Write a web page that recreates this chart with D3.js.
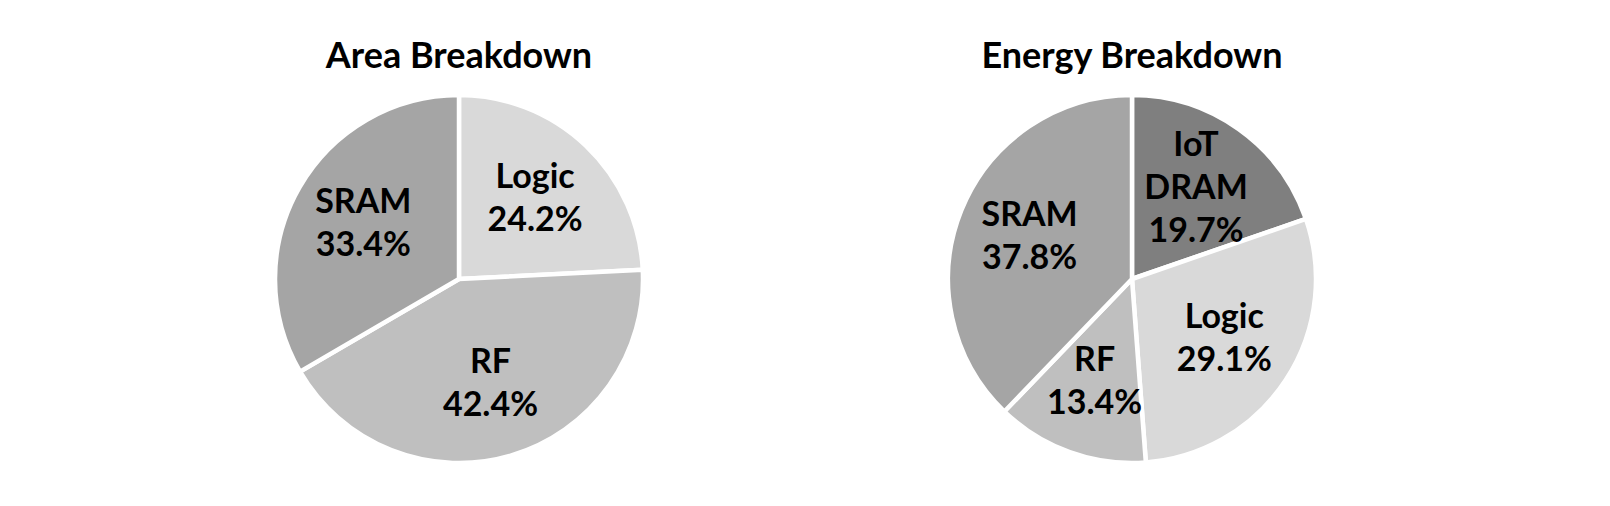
<!DOCTYPE html>
<html>
<head>
<meta charset="utf-8">
<script src="https://cdn.jsdelivr.net/npm/d3@7"></script>
<style>
  html, body { margin: 0; padding: 0; background: #ffffff; }
  svg { display: block; }
  text { font-family: Lato, "Open Sans", sans-serif; font-weight: bold; fill: #000; }
</style>
</head>
<body>
<svg id="chart" width="1610" height="506"></svg>
<script>
// ---- data ----
const areaTitle = "Area Breakdown";
const areaCategories = ["Logic", "RF", "SRAM"];
const areaValues = [24.2, 42.4, 33.4];

const energyTitle = "Energy Breakdown";
const energyCategories = ["IoT DRAM", "Logic", "RF", "SRAM"];
const energyValues = [19.7, 29.1, 13.4, 37.8];

const colorMap = {
  "Logic": "#d9d9d9",
  "RF": "#bfbfbf",
  "SRAM": "#a5a5a5",
  "IoT DRAM": "#7f7f7f"
};

const svg = d3.select("#chart");
const R = 184;

function drawPie(cx, cy, title, cats, vals) {
  const g = svg.append("g").attr("transform", `translate(${cx},${cy})`);
  const data = cats.map((c, i) => ({ cat: c, val: vals[i] }));
  const pie = d3.pie().value(d => d.val).sort(null);
  const arc = d3.arc().innerRadius(0).outerRadius(R);
  const labelArc = d3.arc().innerRadius(R * 0.6).outerRadius(R * 0.6);
  const arcs = pie(data);

  g.selectAll("path.slice").data(arcs).enter().append("path")
    .attr("class", "slice")
    .attr("d", arc)
    .attr("fill", d => colorMap[d.data.cat])
    .attr("stroke", "#ffffff")
    .attr("stroke-width", 4.5)
    .attr("stroke-linejoin", "round");

  const lineH = 43;
  g.selectAll("text.lbl").data(arcs).enter().append("text")
    .attr("class", "lbl")
    .attr("text-anchor", "middle")
    .attr("font-size", 34)
    .each(function(d) {
      const [x, y] = labelArc.centroid(d);
      const lines = d.data.cat.split(" ").concat([d.data.val.toFixed(1) + "%"]);
      const n = lines.length;
      const t = d3.select(this);
      lines.forEach((ln, i) => {
        t.append("tspan")
          .attr("x", x)
          .attr("y", y + (i - (n - 1) / 2) * lineH + 10)
          .text(ln);
      });
    });

  svg.append("text")
    .attr("x", cx)
    .attr("y", 68)
    .attr("text-anchor", "middle")
    .attr("font-size", 36)
    .text(title);
}

drawPie(459, 279, areaTitle, areaCategories, areaValues);
drawPie(1132, 279, energyTitle, energyCategories, energyValues);
</script>
</body>
</html>
